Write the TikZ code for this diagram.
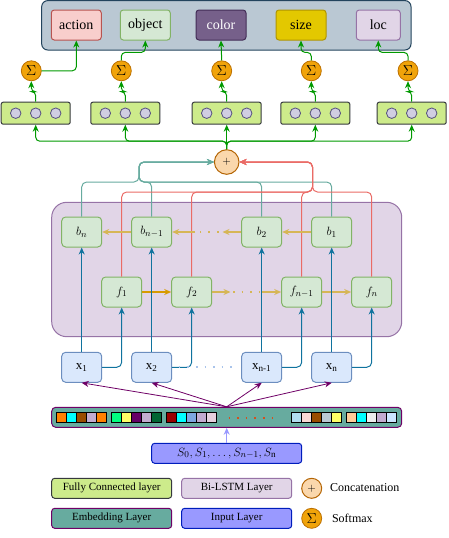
\documentclass[tikz,border=0pt]{standalone}
\usepackage{fontspec}
\setmainfont{Liberation Serif}
\usetikzlibrary{arrows.meta}

\definecolor{topF}{HTML}{BAC8D3}\definecolor{topD}{HTML}{23445D}
\definecolor{actF}{HTML}{F8CECC}\definecolor{actD}{HTML}{B85450}
\definecolor{objF}{HTML}{D5E8D4}\definecolor{objD}{HTML}{82B366}
\definecolor{colF}{HTML}{76608A}\definecolor{colD}{HTML}{432D57}
\definecolor{sizF}{HTML}{E3C800}\definecolor{sizD}{HTML}{B09500}
\definecolor{locF}{HTML}{E1D5E7}\definecolor{locD}{HTML}{9673A6}
\definecolor{sigF}{HTML}{F0A30A}\definecolor{sigD}{HTML}{BD7000}
\definecolor{catF}{HTML}{FAD7AC}\definecolor{catD}{HTML}{B46504}
\definecolor{fcF}{HTML}{CDEB8B}\definecolor{fcD}{HTML}{36393D}
\definecolor{nrnF}{HTML}{D0CEE2}\definecolor{nrnD}{HTML}{56517E}
\definecolor{xF}{HTML}{DAE8FC}\definecolor{xD}{HTML}{6C8EBF}
\definecolor{embF}{HTML}{67AB9F}\definecolor{embD}{HTML}{6F0066}
\definecolor{inpF}{HTML}{9999FF}\definecolor{inpD}{HTML}{001DBC}
\definecolor{gLine}{HTML}{009900}
\definecolor{tLine}{HTML}{67AB9F}
\definecolor{rLine}{HTML}{EA6B66}
\definecolor{bLine}{HTML}{10739E}
\definecolor{pLine}{HTML}{6F0066}
\definecolor{yLine}{HTML}{D6B656}
\definecolor{oLine}{HTML}{D79B00}
\definecolor{bDots}{HTML}{A9C4EB}
\definecolor{eDots}{HTML}{D4501E}
% embedding cells
\definecolor{cOr}{HTML}{FF8000}\definecolor{cCy}{HTML}{00FFFF}
\definecolor{cBr}{HTML}{994C00}\definecolor{cLv}{HTML}{C3ABD0}
\definecolor{cGr}{HTML}{00FF80}\definecolor{cYe}{HTML}{FFFF66}
\definecolor{cPu}{HTML}{660066}\definecolor{cDg}{HTML}{006633}
\definecolor{cDr}{HTML}{990000}\definecolor{cBl}{HTML}{7EA6E0}
\definecolor{cPk}{HTML}{E6D0DE}\definecolor{cLb}{HTML}{B1DDF0}
\definecolor{cRo}{HTML}{FAD9D5}\definecolor{cGb}{HTML}{BAC8D3}
\definecolor{cPe}{HTML}{FFCC99}\definecolor{cLg}{HTML}{EEEEEE}
\definecolor{cSk}{HTML}{CCE5FF}

\tikzset{
  outbox/.style={draw, line width=1pt, rounded corners=3pt, minimum width=50pt, minimum height=30pt, inner sep=0pt, font=\fontsize{14}{16}\selectfont},
  softmax/.style={circle, draw=sigD, fill=sigF, line width=0.8pt, minimum size=20pt, inner sep=0pt, font=\fontsize{15}{17}\selectfont},
  concat/.style={circle, draw=catD, fill=catF, line width=1pt, inner sep=0pt, font=\fontsize{11}{13}\selectfont},
  fcbox/.style={draw=fcD, fill=fcF, line width=1pt, rounded corners=2pt, minimum width=69pt, minimum height=22pt, inner sep=0pt},
  neuron/.style={circle, draw=nrnD, fill=nrnF, line width=0.8pt, minimum size=10.5pt, inner sep=0pt},
  cell/.style={draw=objD, fill=objF, line width=1pt, rounded corners=4pt, minimum width=40pt, minimum height=30pt, inner sep=0pt, font=\fontsize{13}{15}\selectfont},
  xbox/.style={draw=xD, fill=xF, line width=1pt, rounded corners=4pt, minimum width=40pt, minimum height=30pt, inner sep=0pt, font=\fontsize{13}{15}\selectfont},
  legbox/.style={line width=1pt, rounded corners=3pt, minimum height=20pt, inner sep=0pt, font=\fontsize{11}{13}\selectfont},
  tip/.style={-{Stealth[length=7pt,width=6pt]}},
  garrow/.style={tip, draw=gLine, line width=1pt, rounded corners=4pt},
  tarrow/.style={tip, draw=tLine, line width=1pt, rounded corners=5pt},
  rarrow/.style={tip, draw=rLine, line width=1pt, rounded corners=5pt},
  barrow/.style={tip, draw=bLine, line width=1pt, rounded corners=5pt},
  parrow/.style={tip, draw=pLine, line width=0.8pt},
  yarrow/.style={tip, draw=yLine, line width=1.2pt},
  oarrow/.style={tip, draw=oLine, line width=1.2pt},
  dotline/.style={line width=2pt, dash pattern=on 1.6pt off 7pt}
}

\begin{document}
\begin{tikzpicture}[x=1pt,y=-1pt]
\useasboundingbox (0,0) rectangle (448,538);

%BACKGROUNDS
\filldraw [fill=topF, draw=topD, line width=1pt, rounded corners=6pt] (41.7,0.6) rectangle (411,50);
\filldraw [fill=locF, draw=locD, line width=1pt, rounded corners=15pt] (51.7,202.3) rectangle (401.7,336.7);

%OUTPUT LABELS
\node [outbox, fill=actF, draw=actD] (action) at (76.3,25) {action};
\node [outbox, fill=objF, draw=objD] (object) at (145.3,25) {object};
\node [outbox, fill=colF, draw=colD, text=white] (color) at (221,25) {color};
\node [outbox, fill=sizF, draw=sizD] (size) at (301,25) {size};
\node [outbox, fill=locF, draw=locD, minimum width=44pt] (loc) at (378.3,25) {loc};

%SOFTMAX
\foreach \n/\x in {1/31.3,2/121.3,3/221.7,4/311.3,5/408}
  \node [softmax] (s\n) at (\x,70.8) {$\Sigma$};

%FULLY CONNECTED
\foreach \n/\x in {1/35.7,2/125.3,3/226.7,4/315.3,5/411.7}
{
\node [fcbox] (fc\n) at (\x,113.2) {};
\foreach \dx in {-20,0,20}
  \node [neuron, xshift=\dx pt] at (fc\n) {};
}

%CONCATENATION
\node [concat, minimum size=24.6pt] (plus) at (226.7,162) {$+$};

%BI-LSTM CELLS
\node [cell] (bn)  at (81.7,232) {$b_n$};
\node [cell] (bn1) at (151.7,232) {$b_{n-1}$};
\node [cell] (b2)  at (261.7,232) {$b_2$};
\node [cell] (b1)  at (331.7,232) {$b_1$};
\node [cell] (f1)  at (121.7,292) {$f_1$};
\node [cell] (f2)  at (191.7,292) {$f_2$};
\node [cell] (fn1) at (301.7,292) {$f_{n-1}$};
\node [cell] (fn)  at (371.7,292) {$f_n$};

%INPUT TOKENS
\node [xbox] (x1)  at (81.7,367.3) {x\textsubscript{1}};
\node [xbox] (x2)  at (151.7,367.3) {x\textsubscript{2}};
\node [xbox] (xn1) at (261.7,367.3) {x\textsubscript{n-1}};
\node [xbox] (xn)  at (331.7,367.3) {x\textsubscript{n}};

%EMBEDDING AND INPUT
\node [legbox, draw=embD, fill=embF, minimum width=350pt, rounded corners=4pt] (emb) at (226.7,417.3) {};
\foreach \gx/\cl in {56.7/{cOr,cCy,cBr,cLv,cOr}, 111.7/{cGr,cYe,cPu,cLv,cDg}, 166.7/{cDr,cCy,cBl,cLv,cPk}, 291.7/{cLb,cRo,cBr,cGb,cYe}, 346.7/{cPe,cCy,cLg,cLv,cSk}}
{
\foreach \c [count=\i from 0] in \cl
  \filldraw [fill=\c, draw=black, line width=0.6pt] (\gx+10*\i,412.7) rectangle ++(10,10);
\draw [line width=1pt] (\gx,412.7) rectangle ++(50,10);
}
\draw [dotline, draw=eDots] (228.5,417.7) -- (280,417.7);
\node [legbox, draw=inpD, fill=inpF, minimum width=150pt, font=\fontsize{13}{15}\selectfont] (inp) at (226.7,453.3) {$S_0,S_1,\ldots,S_{n-1},S_{\mathrm{n}}$};

%LEGEND
\node [legbox, draw=fcD, fill=fcF, minimum width=120pt] (lgfc) at (111.7,488.3) {Fully Connected layer};
\node [legbox, draw=locD, fill=locF, minimum width=110pt] (lglstm) at (236.7,488.3) {Bi-LSTM Layer};
\node [concat, minimum size=20pt] (lgplus) at (311.7,488.3) {$+$};
\node [anchor=west, font=\fontsize{12}{14}\selectfont] (lgcat) at (326.5,487.5) {Concatenation};
\node [legbox, draw=embD, fill=embF, minimum width=120pt] (lgemb) at (111.7,518.3) {Embedding Layer};
\node [legbox, draw=inpD, fill=inpF, minimum width=110pt] (lginp) at (236.7,518.3) {Input Layer};
\node [softmax] (lgsig) at (311.7,518.3) {$\Sigma$};
\node [anchor=west, font=\fontsize{12}{14}\selectfont] (lgsoft) at (328.5,518.3) {Softmax};

%Junctions
\coordinate (tj) at (139,182);
\coordinate (rj) at (312.5,192);
\coordinate (bR) at (222.5,232);
\coordinate (bL) at (195,232);
\coordinate (fR) at (230.5,292);
\coordinate (fL) at (261,292);

%Green: fully connected to softmax to outputs
\foreach \n in {1,...,5}
{
\draw [garrow] (plus.north) -- ++(0,-8) -| (fc\n.south);
\draw [garrow] (fc\n.north) -- ++(0,-10) -| (s\n.south);
}
\draw [garrow] (s1.east) -| (action.south);
\draw [garrow] (s2.north) -- ++(0,-8) -| (object.south);
\draw [garrow] (s3.north) -- (color.south);
\draw [garrow] (s4.north) -- ++(0,-8) -| (size.south);
\draw [garrow] (s5.north) -- ++(0,-8) -| (loc.south);

%Backward and forward states to concatenation
\foreach \b in {bn,bn1,b2,b1}
  \draw [tarrow] (\b.north) |- (tj) |- (plus.west);
\foreach \f in {f1,f2,fn1,fn}
  \draw [rarrow] (\f.north) |- (rj) |- (plus.east);

%Recurrent links
\draw [yarrow] (bn1.west) -- (bn.east);
\draw [yarrow] (b1.west) -- (b2.east);
\draw [yarrow] (b2.west) -- (bR);
\draw [dotline, draw=yLine, shorten <=4pt] (bR) -- (bL);
\draw [yarrow] (bL) -- (bn1.east);
\draw [oarrow] (f1.east) -- (f2.west);
\draw [yarrow] (f2.east) -- (fR);
\draw [dotline, draw=yLine, shorten <=2.5pt] (fR) -- (fL);
\draw [yarrow] (fL) -- (fn1.west);
\draw [yarrow] (fn1.east) -- (fn.west);

%Tokens to cells
\draw [barrow] (x1.north) -- (bn.south);
\draw [barrow] (x2.north) -- (bn1.south);
\draw [barrow] (xn1.north) -- (b2.south);
\draw [barrow] (xn.north) -- (b1.south);
\draw [barrow] (x1.east) -| (f1.south);
\draw [barrow] (x2.east) -| (f2.south);
\draw [barrow] (xn1.east) -| (fn1.south);
\draw [barrow] (xn.east) -| (fn.south);
\draw [dotline, draw=bDots, shorten <=6.5pt, shorten >=5pt] (x2.east) -- (xn1.west);

%Embedding to tokens
\foreach \x in {x1,x2,xn1,xn}
  \draw [parrow] (emb.north) -- (\x.south);
\draw [tip, draw=inpF, line width=1pt] (inp.north) -- (emb.south);

\end{tikzpicture}
\end{document}
